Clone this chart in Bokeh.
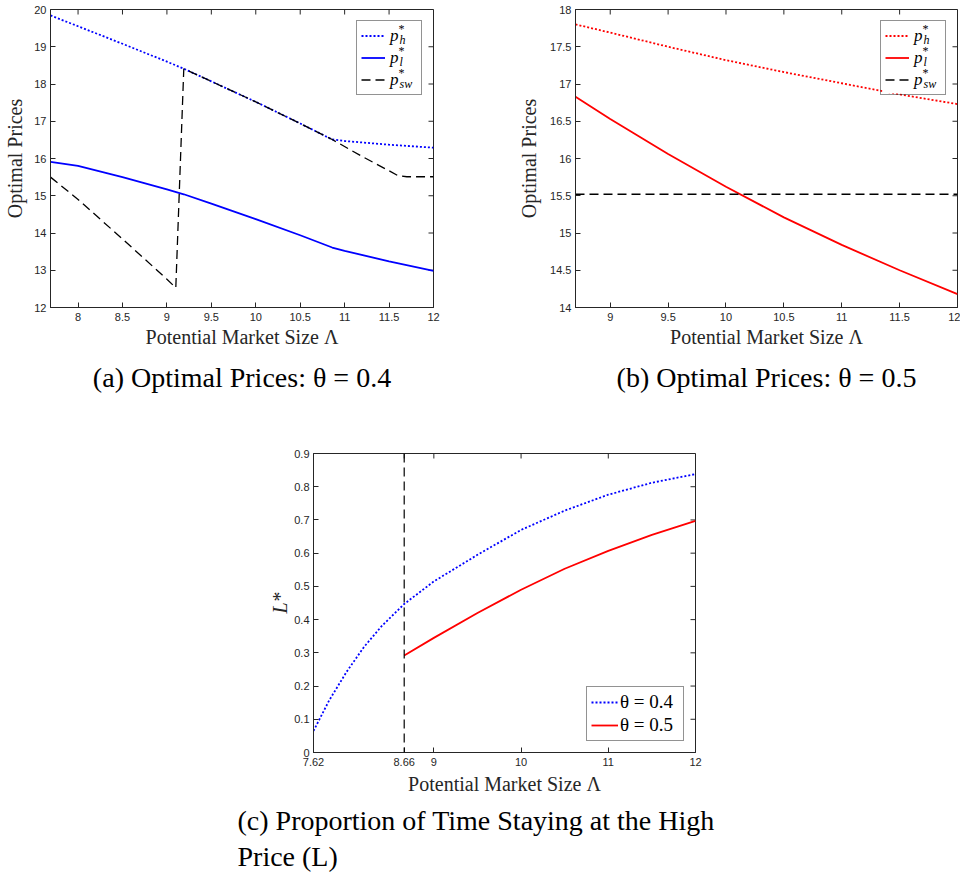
from bokeh.plotting import figure
from bokeh.models import (FixedTicker, CustomJSTickFormatter, Legend, BoxAnnotation,
                          LegendItem, Label, Span, Range1d, Title)
from bokeh.layouts import column, row
from bokeh.embed import file_html
from bokeh.resources import INLINE

# ---------------- data ----------------
# (a) theta = 0.4
lam_a = [7.69, 8.0, 8.5, 9.0, 9.19, 9.5, 10.0, 10.5, 10.86, 11.0, 11.5, 12.0]
ph_a = [19.84, 19.55, 19.08, 18.60, 18.41, 18.07, 17.52, 16.94, 16.51, 16.47, 16.37, 16.29]
pl_a = [15.91, 15.80, 15.50, 15.17, 15.04, 14.79, 14.37, 13.94, 13.61, 13.52, 13.24, 12.98]
lam_sw_a = [7.69, 8.0, 8.5, 9.0, 9.1, 9.19, 9.5, 10.0, 10.5, 10.86, 11.2, 11.5, 11.6, 11.7, 12.0]
psw_a = [15.50, 14.90, 13.84, 12.76, 12.53, 18.41, 18.07, 17.52, 16.94, 16.51, 16.05, 15.67, 15.54, 15.51, 15.51]

# (b) theta = 0.5
lam_b = [8.70, 9.0, 9.5, 10.0, 10.5, 11.0, 11.5, 12.0]
ph_b = [17.80, 17.69, 17.50, 17.32, 17.16, 17.01, 16.86, 16.73]
pl_b = [16.83, 16.53, 16.06, 15.62, 15.21, 14.84, 14.50, 14.18]
psw_b = [15.52, 15.52, 15.52, 15.52, 15.52, 15.52, 15.52, 15.52]

# (c) proportion of time at the high price
lam_c4 = [7.62, 7.8, 8.0, 8.2, 8.4, 8.66, 9.0, 9.5, 10.0, 10.5, 11.0, 11.5, 12.0]
L_04 = [0.065, 0.157, 0.243, 0.318, 0.380, 0.447, 0.515, 0.595, 0.670, 0.728, 0.776, 0.812, 0.838]
lam_c5 = [8.66, 9.0, 9.5, 10.0, 10.5, 11.0, 11.5, 12.0]
L_05 = [0.292, 0.345, 0.420, 0.490, 0.553, 0.607, 0.655, 0.697]
lam_switch = 8.66

# axis ticks
xt_a = [8, 8.5, 9, 9.5, 10, 10.5, 11, 11.5, 12]
yt_a = [12, 13, 14, 15, 16, 17, 18, 19, 20]
xt_b = [9, 9.5, 10, 10.5, 11, 11.5, 12]
yt_b = [14, 14.5, 15, 15.5, 16, 16.5, 17, 17.5, 18]
xt_c = [7.62, 8.66, 9, 10, 11, 12]
yt_c = [0, 0.1, 0.2, 0.3, 0.4, 0.5, 0.6, 0.7, 0.8, 0.9]

XLABEL = "Potential Market Size \u039b"
YLABEL = "Optimal Prices"
captions = ["(a) Optimal Prices: \u03b8 = 0.4", "(b) Optimal Prices: \u03b8 = 0.5",
            "(c) Proportion of Time Staying at the High", "Price (L)"]

# ---------------- style ----------------
AX = "#262626"
SERIF = "Liberation Serif"
SANS = "Liberation Sans"
BLUE = "#0000ff"
RED = "#ff0000"
BLACK = "#000000"
DOT = "2 2"
DASH = "9 5"
TICK = 5


def fmt():
    return CustomJSTickFormatter(code="return String(Math.round(tick*100)/100);")


def make_fig(width, height, xr, yr, xt, yt, left, right, top, bottom, ystand, fw, fh):
    p = figure(width=width, height=height, x_range=Range1d(*xr), y_range=Range1d(*yr),
               output_backend="svg", toolbar_location=None,
               min_border_left=left, min_border_right=right,
               min_border_top=top, min_border_bottom=bottom)
    p.xgrid.visible = False
    p.ygrid.visible = False
    p.outline_line_color = AX
    p.outline_line_width = 1
    p.background_fill_color = "white"
    p.border_fill_color = "white"
    xax, yax = p.below[0], p.left[0]
    for ax, ticks in ((xax, xt), (yax, yt)):
        ax.ticker = FixedTicker(ticks=ticks)
        ax.formatter = fmt()
        ax.major_tick_in = TICK
        ax.major_tick_out = 0
        ax.minor_tick_line_color = None
        ax.axis_line_color = AX
        ax.major_tick_line_color = AX
        ax.major_label_text_font = SANS
        ax.major_label_text_font_size = "11px"
        ax.major_label_text_color = AX
        ax.axis_label_text_font = SERIF
        ax.axis_label_text_font_size = "20px"
        ax.axis_label_text_font_style = "normal"
        ax.axis_label_text_color = AX
    xax.major_label_standoff = 5
    yax.major_label_standoff = 4
    xax.axis_label_standoff = 2
    yax.axis_label_standoff = ystand
    # inward ticks on the top and right edges of the box
    dy = TICK * (yr[1] - yr[0]) / fh
    dx = TICK * (xr[1] - xr[0]) / fw
    p.segment(x0=xt, x1=xt, y0=[yr[1]] * len(xt), y1=[yr[1] - dy] * len(xt),
              line_color=AX, line_width=1)
    p.segment(x0=[xr[1]] * len(yt), x1=[xr[1] - dx] * len(yt), y0=yt, y1=yt,
              line_color=AX, line_width=1)
    return p, xax, yax


def p_legend(p, W, H, rends, subs):
    pad, gw, gh, sp, stand, lw, margin = 4, 24, 21, 1, 5, 27, 11
    width = 2 * pad + gw + stand + lw
    height = 2 * pad + len(rends) * gh + (len(rends) - 1) * sp
    left = W - margin - width
    top = H - margin
    # white backing of the legend box (covers the curves, sits below the legend text)
    p.add_layout(BoxAnnotation(left=left, right=left + width, top=top, bottom=top - height,
                               left_units="screen", right_units="screen",
                               top_units="screen", bottom_units="screen",
                               fill_color="white", fill_alpha=1.0, line_color=None,
                               level="guide"))
    leg = Legend(items=[LegendItem(label="p", renderers=[r]) for r in rends],
                 location="top_right", margin=margin, padding=pad, spacing=sp,
                 glyph_width=gw, glyph_height=gh, label_height=gh, label_width=lw,
                 label_standoff=stand, label_text_font=SERIF, label_text_font_style="italic",
                 label_text_font_size="17px", label_text_color=BLACK,
                 border_line_color=AX, border_line_width=1, background_fill_alpha=0.0)
    p.add_layout(leg)
    lx = left + pad + gw + stand
    for i, s in enumerate(subs):
        yc = top - pad - gh / 2 - i * (gh + sp)
        p.add_layout(Label(x=lx + 7, y=yc + 6, x_units="screen", y_units="screen", text="*",
                           text_font=SERIF, text_font_size="12px", text_color=BLACK,
                           text_baseline="middle", text_align="left"))
        p.add_layout(Label(x=lx + 8, y=yc - 5, x_units="screen", y_units="screen", text=s,
                           text_font=SERIF, text_font_style="italic", text_font_size="12px",
                           text_color=BLACK, text_baseline="middle", text_align="left"))


def caption(p, text, standoff, align="center", offset=0):
    p.add_layout(Title(text=text, align=align, offset=offset, standoff=standoff,
                       text_font=SERIF, text_font_size="28px", text_font_style="normal",
                       text_color=BLACK), "below")


# ---------------- (a) ----------------
W1, H1 = 383, 298
p1, xa1, ya1 = make_fig(480, 420, (7.69, 12), (12, 20), xt_a, yt_a, 50, 47, 9, 113, 5, W1, H1)
xa1.axis_label = XLABEL
ya1.axis_label = YLABEL
r1 = p1.line(lam_a, ph_a, line_color=BLUE, line_width=1.8, line_dash=DOT)
r2 = p1.line(lam_a, pl_a, line_color=BLUE, line_width=1.8)
r3 = p1.line(lam_sw_a, psw_a, line_color=BLACK, line_width=1.3, line_dash=DASH)
p_legend(p1, W1, H1, [r1, r2, r3], ["h", "l", "sw"])
caption(p1, captions[0], 18, offset=-8)

# ---------------- (b) ----------------
W2, H2 = 382, 298
p2, xa2, ya2 = make_fig(480, 420, (8.70, 12), (14, 18), xt_b, yt_b, 95, 3, 9, 113, 7, W2, H2)
xa2.axis_label = XLABEL
ya2.axis_label = YLABEL
s1 = p2.line(lam_b, ph_b, line_color=RED, line_width=1.8, line_dash=DOT)
s2 = p2.line(lam_b, pl_b, line_color=RED, line_width=1.8)
s3 = p2.line(lam_b, psw_b, line_color=BLACK, line_width=1.3, line_dash=DASH)
p_legend(p2, W2, H2, [s1, s2, s3], ["h", "l", "sw"])
caption(p2, captions[1], 18, offset=-8)

# ---------------- (c) ----------------
W3, H3 = 382, 299
p3, xa3, ya3 = make_fig(960, 455, (7.62, 12), (0, 0.9), xt_c, yt_c, 313, 265, 33, 123, 0, W3, H3)
xa3.axis_label = XLABEL
ya3.axis_label = "L*"
ya3.axis_label_text_font_style = "italic"
xa3.axis_label_standoff = 4
p3.add_layout(Span(location=lam_switch, dimension="height", line_color=BLACK,
                   line_width=1.2, line_dash=DASH))
t1 = p3.line(lam_c4, L_04, line_color=BLUE, line_width=1.8, line_dash=DOT)
t2 = p3.line(lam_c5, L_05, line_color=RED, line_width=1.8)
leg3 = Legend(items=[LegendItem(label="\u03b8 = 0.4", renderers=[t1]),
                     LegendItem(label="\u03b8 = 0.5", renderers=[t2])],
              location="bottom_right", margin=11, padding=4, spacing=1,
              glyph_width=27, glyph_height=20, label_height=20, label_width=59,
              label_standoff=2, label_text_font=SERIF, label_text_font_size="19px",
              label_text_color=BLACK, border_line_color=AX, border_line_width=1,
              background_fill_color="white", background_fill_alpha=1.0)
p3.add_layout(leg3)
caption(p3, captions[2], 10, align="left", offset=-76)
caption(p3, captions[3], -4, align="left", offset=-76)

layout = column(row(p1, p2), p3)
open("out.html", "w").write(file_html(layout, INLINE))
